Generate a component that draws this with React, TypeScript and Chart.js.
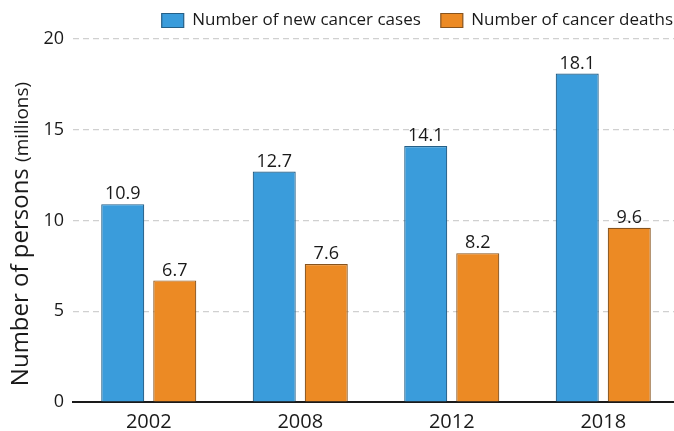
import React, { useEffect, useRef } from "react";
import { Chart, registerables } from "chart.js";

Chart.register(...registerables);

const years = ["2002", "2008", "2012", "2018"];
const newCases = [10.9, 12.7, 14.1, 18.1];
const deaths = [6.7, 7.6, 8.2, 9.6];
const yTicks = [0, 5, 10, 15, 20];

const FONT = "'Open Sans', 'Noto Sans', sans-serif";
const TEXT = "#1a1a1a";

const valueLabels = {
  id: "valueLabels",
  afterDatasetsDraw(chart: any) {
    const { ctx } = chart;
    ctx.save();
    ctx.font = `18px ${FONT}`;
    ctx.fillStyle = TEXT;
    ctx.textAlign = "center";
    ctx.textBaseline = "bottom";
    chart.data.datasets.forEach((ds: any, di: number) => {
      const meta = chart.getDatasetMeta(di);
      meta.data.forEach((bar: any, i: number) => {
        ctx.fillText(Number(ds.data[i]).toFixed(1), bar.x, bar.y - 1);
      });
    });
    ctx.restore();
  },
};

const yTitle = {
  id: "yTitle",
  afterDraw(chart: any) {
    const { ctx } = chart;
    const big = "Number of persons ";
    const small = "(millions)";
    ctx.save();
    ctx.fillStyle = TEXT;
    ctx.textBaseline = "alphabetic";
    ctx.textAlign = "left";
    ctx.font = `24px ${FONT}`;
    const wBig = ctx.measureText(big).width;
    ctx.font = `19px ${FONT}`;
    const wSmall = ctx.measureText(small).width;
    const total = wBig + wSmall;
    ctx.translate(28, 234);
    ctx.rotate(-Math.PI / 2);
    ctx.font = `24px ${FONT}`;
    ctx.fillText(big, -total / 2, 0);
    ctx.font = `19px ${FONT}`;
    ctx.fillText(small, -total / 2 + wBig, 0);
    ctx.restore();
  },
};

export default function App() {
  const ref = useRef<HTMLCanvasElement | null>(null);

  useEffect(() => {
    document.body.style.overflow = "hidden";
    const canvas = ref.current;
    if (!canvas) return;
    const chart = new Chart(canvas, {
      type: "bar",
      data: {
        labels: years,
        datasets: [
          {
            label: "Number of new cancer cases",
            data: newCases,
            backgroundColor: "#3a9cdb",
            borderColor: "#245f87",
            borderWidth: 1.2,
            categoryPercentage: 0.687,
            barPercentage: 0.827,
          },
          {
            label: "Number of cancer deaths",
            data: deaths,
            backgroundColor: "#ec8a24",
            borderColor: "#87531d",
            borderWidth: 1.2,
            categoryPercentage: 0.687,
            barPercentage: 0.827,
          },
        ],
      },
      options: {
        responsive: false,
        animation: false,
        layout: { padding: { top: -8, left: 0, right: 0, bottom: 0 } },
        plugins: {
          legend: {
            position: "top",
            align: "end",
            labels: {
              boxWidth: 22,
              boxHeight: 14,
              padding: 20,
              color: TEXT,
              font: { family: FONT, size: 17 },
            },
          },
          tooltip: { enabled: false },
        },
        scales: {
          x: {
            grid: { display: false, drawTicks: false },
            border: { display: true, color: "#1a1a1a", width: 2 },
            ticks: { color: TEXT, font: { family: FONT, size: 20 }, padding: 8 },
            afterFit: (s: any) => {
              s.height = 29;
            },
          },
          y: {
            min: 0,
            max: 20,
            afterBuildTicks: (s: any) => {
              s.ticks = yTicks.map((v) => ({ value: v }));
            },
            afterFit: (s: any) => {
              s.width = 73;
            },
            grid: {
              drawTicks: false,
              color: (c: any) => (c.tick && c.tick.value === 0 ? "rgba(0,0,0,0)" : "#d0d0d0"),
              lineWidth: 1.2,
            },
            border: { display: false, dash: [6, 4] },
            ticks: { color: TEXT, font: { family: FONT, size: 18 }, padding: 9 },
          },
          yPad: {
            type: "linear",
            position: "right",
            display: true,
            grid: { display: false, drawTicks: false },
            border: { display: false },
            ticks: { display: false },
            afterFit: (s: any) => {
              s.width = 14;
            },
          },
        },
      },
      plugins: [valueLabels, yTitle],
    });
    return () => chart.destroy();
  }, []);

  return (
    <div style={{ position: "fixed", left: 0, top: 0, width: 693, height: 431, background: "#fff" }}>
      <canvas ref={ref} width={693} height={431} style={{ width: 693, height: 431, display: "block" }} />
    </div>
  );
}
